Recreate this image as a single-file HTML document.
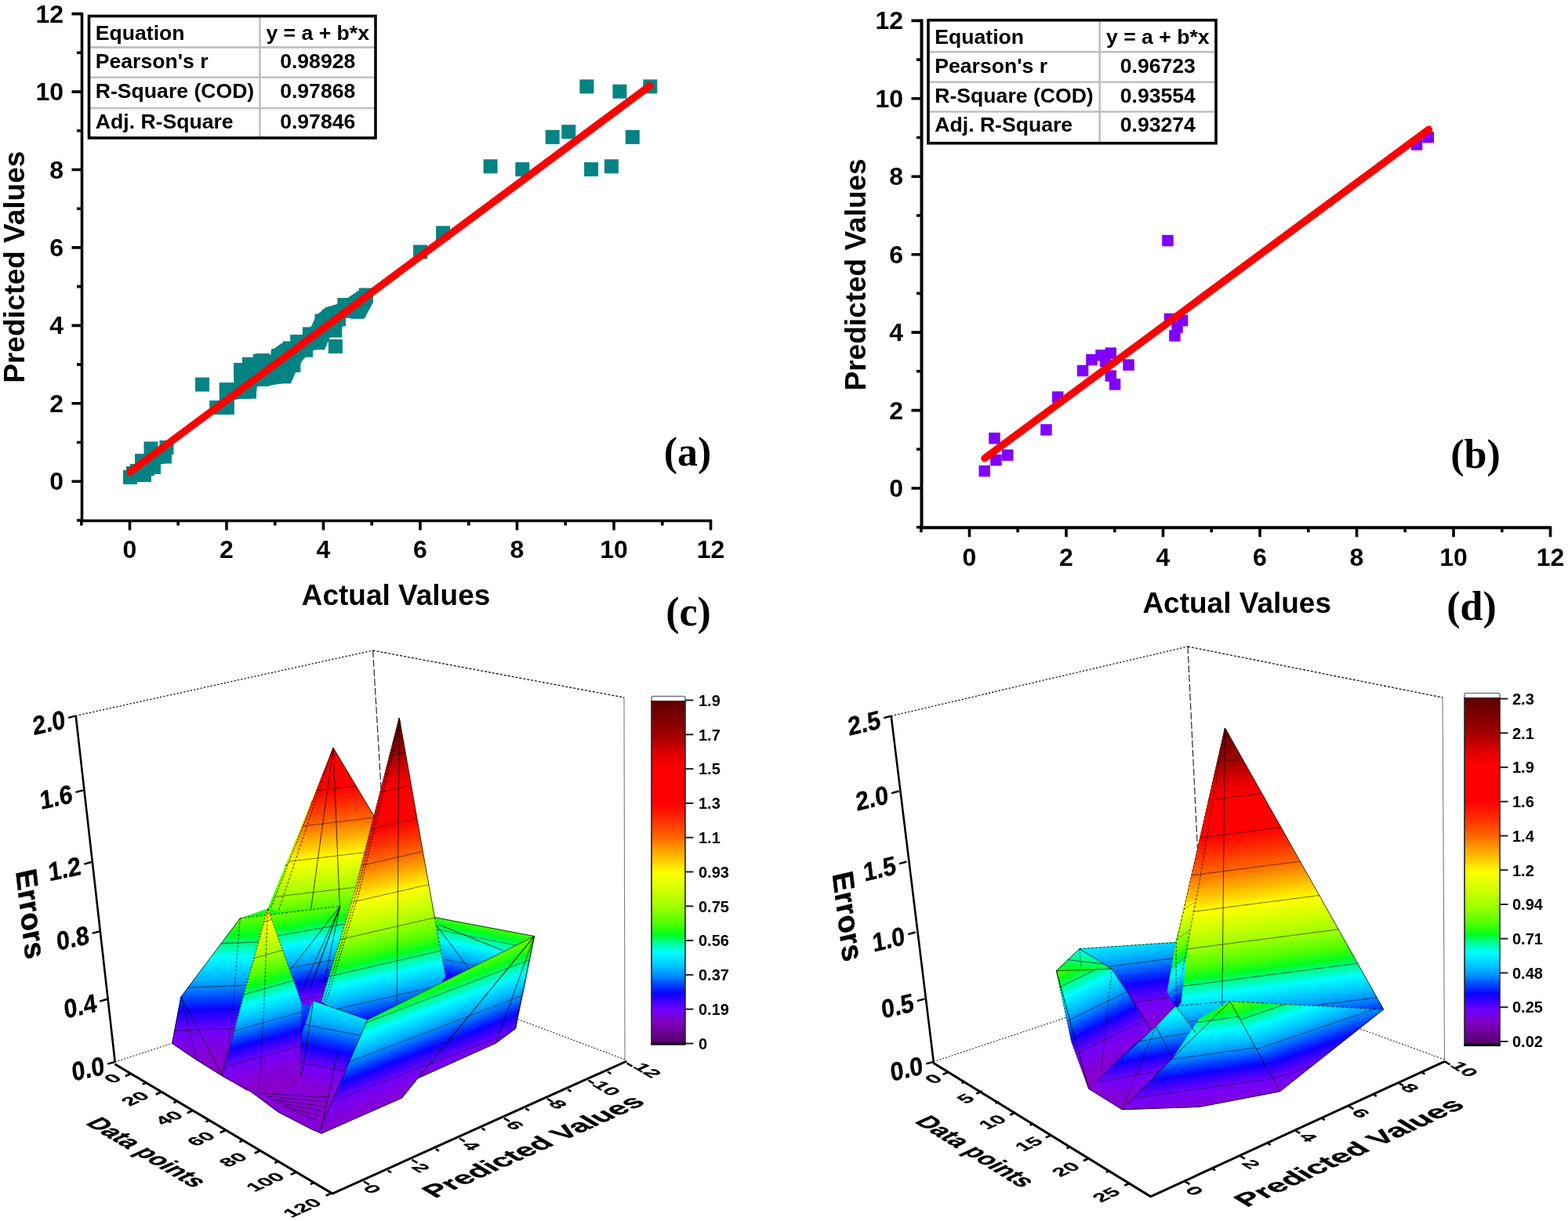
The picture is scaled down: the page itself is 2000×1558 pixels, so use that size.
<!DOCTYPE html>
<html><head><meta charset="utf-8"><title>Figure</title>
<style>
html,body{margin:0;padding:0;background:#fff;}
body{width:2000px;height:1558px;overflow:hidden;}
svg{display:block;}
.tl{font-family:'Liberation Sans', Arial, sans-serif;font-weight:bold;font-size:32px;fill:#000;}
.at{font-family:'Liberation Sans', Arial, sans-serif;font-weight:bold;font-size:37px;fill:#000;}
.tt{font-family:'Liberation Sans', Arial, sans-serif;font-weight:bold;font-size:26.6px;fill:#000;}
.pl{font-family:'Liberation Serif', 'Times New Roman', serif;font-weight:bold;font-size:52px;fill:#000;}
.zl{font-family:'Liberation Sans', Arial, sans-serif;font-weight:bold;font-size:33px;fill:#000;stroke:#000;stroke-width:0.4px;}
.cl{font-family:'Liberation Sans', Arial, sans-serif;font-weight:bold;font-size:20px;fill:#000;}
.t3{font-family:'Liberation Sans', Arial, sans-serif;font-weight:bold;font-size:37px;fill:#000;stroke:#000;stroke-width:0.5px;}
.e3{font-family:'Liberation Sans', Arial, sans-serif;font-weight:bold;font-size:38px;fill:#000;stroke:#000;stroke-width:0.5px;}
.k3{font-family:'Liberation Sans', Arial, sans-serif;font-weight:bold;font-size:26.5px;fill:#000;stroke:#000;stroke-width:0.3px;}
</style></head>
<body>
<svg width="2000" height="1558" viewBox="0 0 2000 1558">
<defs><linearGradient id="cm" gradientUnits="userSpaceOnUse" x1="0" y1="0" x2="1" y2="0"><stop offset="0.0000" stop-color="#8a00c8"/><stop offset="0.0500" stop-color="#8300dc"/><stop offset="0.0978" stop-color="#7100fd"/><stop offset="0.1000" stop-color="#320073"/><stop offset="0.1022" stop-color="#6b00ff"/><stop offset="0.1460" stop-color="#1000ff"/><stop offset="0.1710" stop-color="#0040ff"/><stop offset="0.1978" stop-color="#008aff"/><stop offset="0.2000" stop-color="#004173"/><stop offset="0.2022" stop-color="#0094ff"/><stop offset="0.2250" stop-color="#00c0ff"/><stop offset="0.2670" stop-color="#00ffff"/><stop offset="0.2978" stop-color="#00ff88"/><stop offset="0.3000" stop-color="#00733a"/><stop offset="0.3022" stop-color="#00ff74"/><stop offset="0.3170" stop-color="#00ff20"/><stop offset="0.3500" stop-color="#50ff00"/><stop offset="0.3978" stop-color="#9cff00"/><stop offset="0.4000" stop-color="#487300"/><stop offset="0.4022" stop-color="#a2ff00"/><stop offset="0.4400" stop-color="#c8ff00"/><stop offset="0.4978" stop-color="#ffff00"/><stop offset="0.5000" stop-color="#737100"/><stop offset="0.5022" stop-color="#fff900"/><stop offset="0.5300" stop-color="#ffd000"/><stop offset="0.5750" stop-color="#ff9000"/><stop offset="0.5978" stop-color="#ff6c00"/><stop offset="0.6000" stop-color="#732f00"/><stop offset="0.6022" stop-color="#ff6600"/><stop offset="0.6500" stop-color="#ff3000"/><stop offset="0.6978" stop-color="#ff0200"/><stop offset="0.7000" stop-color="#730000"/><stop offset="0.7022" stop-color="#ff0000"/><stop offset="0.7978" stop-color="#ff0000"/><stop offset="0.8000" stop-color="#730000"/><stop offset="0.8022" stop-color="#fd0000"/><stop offset="0.8450" stop-color="#e00000"/><stop offset="0.8978" stop-color="#a30000"/><stop offset="0.9000" stop-color="#480000"/><stop offset="0.9022" stop-color="#9e0000"/><stop offset="1.0000" stop-color="#5a0000"/></linearGradient><linearGradient id="cb" x1="0" y1="1" x2="0" y2="0"><stop offset="0.0000" stop-color="#5a0070"/><stop offset="0.0200" stop-color="#600080"/><stop offset="0.0640" stop-color="#8000c0"/><stop offset="0.1000" stop-color="#7000ff"/><stop offset="0.1460" stop-color="#1000ff"/><stop offset="0.1710" stop-color="#0040ff"/><stop offset="0.2000" stop-color="#0090ff"/><stop offset="0.2250" stop-color="#00c0ff"/><stop offset="0.2670" stop-color="#00ffff"/><stop offset="0.3000" stop-color="#00ff80"/><stop offset="0.3170" stop-color="#00ff20"/><stop offset="0.3500" stop-color="#50ff00"/><stop offset="0.4000" stop-color="#a0ff00"/><stop offset="0.4400" stop-color="#c8ff00"/><stop offset="0.4980" stop-color="#ffff00"/><stop offset="0.5300" stop-color="#ffd000"/><stop offset="0.5750" stop-color="#ff9000"/><stop offset="0.6000" stop-color="#ff6800"/><stop offset="0.6500" stop-color="#ff3000"/><stop offset="0.7000" stop-color="#ff0000"/><stop offset="0.8000" stop-color="#ff0000"/><stop offset="0.8450" stop-color="#e00000"/><stop offset="0.9000" stop-color="#a00000"/><stop offset="1.0000" stop-color="#5a0000"/></linearGradient></defs>
<rect width="2000" height="1558" fill="#fff"/>
<path d="M104.5 15.9V664.5H908.2" fill="none" stroke="#000" stroke-width="3.6"/>
<path d="M104.5 664H98M104.5 614.2H91.5M104.5 564.5H98M104.5 514.8H91.5M104.5 465.1H98M104.5 415.4H91.5M104.5 365.6H98M104.5 315.9H91.5M104.5 266.2H98M104.5 216.5H91.5M104.5 166.8H98M104.5 117.1H91.5M104.5 67.3H98M104.5 17.6H91.5M103.8 664.5V670.5M165.5 664.5V676.5M227.2 664.5V670.5M289 664.5V676.5M350.8 664.5V670.5M412.5 664.5V676.5M474.2 664.5V670.5M536 664.5V676.5M597.8 664.5V670.5M659.5 664.5V676.5M721.2 664.5V670.5M783 664.5V676.5M844.8 664.5V670.5M906.5 664.5V676.5" fill="none" stroke="#000" stroke-width="3.6"/>
<text x="81" y="625.2" text-anchor="end" class="tl">0</text>
<text x="165.5" y="711.5" text-anchor="middle" class="tl">0</text>
<text x="81" y="525.8" text-anchor="end" class="tl">2</text>
<text x="289" y="711.5" text-anchor="middle" class="tl">2</text>
<text x="81" y="426.4" text-anchor="end" class="tl">4</text>
<text x="412.5" y="711.5" text-anchor="middle" class="tl">4</text>
<text x="81" y="326.9" text-anchor="end" class="tl">6</text>
<text x="536" y="711.5" text-anchor="middle" class="tl">6</text>
<text x="81" y="227.5" text-anchor="end" class="tl">8</text>
<text x="659.5" y="711.5" text-anchor="middle" class="tl">8</text>
<text x="81" y="128.1" text-anchor="end" class="tl">10</text>
<text x="783" y="711.5" text-anchor="middle" class="tl">10</text>
<text x="81" y="28.6" text-anchor="end" class="tl">12</text>
<text x="906.5" y="711.5" text-anchor="middle" class="tl">12</text>
<text x="505" y="772.3" text-anchor="middle" class="at">Actual Values</text>
<text transform="translate(31 340.7) rotate(-90)" text-anchor="middle" class="at">Predicted Values</text>
<rect x="739.4" y="101.4" width="18" height="18" fill="#038383"/>
<rect x="781.4" y="107.7" width="18" height="18" fill="#038383"/>
<rect x="820.3" y="101.4" width="18" height="18" fill="#038383"/>
<rect x="695.7" y="165.9" width="18" height="18" fill="#038383"/>
<rect x="716.3" y="159.2" width="18" height="18" fill="#038383"/>
<rect x="797.8" y="165.9" width="18" height="18" fill="#038383"/>
<rect x="616.6" y="203.3" width="18" height="18" fill="#038383"/>
<rect x="657.3" y="207.1" width="18" height="18" fill="#038383"/>
<rect x="745.1" y="207.1" width="18" height="18" fill="#038383"/>
<rect x="770.9" y="203.3" width="18" height="18" fill="#038383"/>
<rect x="556.1" y="288.3" width="18" height="18" fill="#038383"/>
<rect x="527.1" y="312.5" width="18" height="18" fill="#038383"/>
<rect x="458" y="367.5" width="18" height="18" fill="#038383"/>
<rect x="446.5" y="388.8" width="18" height="18" fill="#038383"/>
<rect x="435.9" y="380.7" width="18" height="18" fill="#038383"/>
<rect x="249" y="481.6" width="18" height="18" fill="#038383"/>
<rect x="418.9" y="433" width="18" height="18" fill="#038383"/>
<rect x="280.2" y="488.2" width="18" height="18" fill="#038383"/>
<rect x="267.2" y="511" width="18" height="18" fill="#038383"/>
<rect x="280.2" y="511" width="18" height="18" fill="#038383"/>
<rect x="298.2" y="463" width="18" height="18" fill="#038383"/>
<rect x="309" y="490.6" width="18" height="18" fill="#038383"/>
<rect x="309" y="455.8" width="18" height="18" fill="#038383"/>
<rect x="325.8" y="451" width="18" height="18" fill="#038383"/>
<rect x="325.8" y="475" width="18" height="18" fill="#038383"/>
<rect x="346.2" y="445" width="18" height="18" fill="#038383"/>
<rect x="353.4" y="471.4" width="18" height="18" fill="#038383"/>
<rect x="360.6" y="435.4" width="18" height="18" fill="#038383"/>
<rect x="370.2" y="427" width="18" height="18" fill="#038383"/>
<rect x="365.4" y="457" width="18" height="18" fill="#038383"/>
<rect x="381" y="437.8" width="18" height="18" fill="#038383"/>
<rect x="396.7" y="428.2" width="18" height="18" fill="#038383"/>
<rect x="385.9" y="417.4" width="18" height="18" fill="#038383"/>
<rect x="401.5" y="400.6" width="18" height="18" fill="#038383"/>
<rect x="411" y="394.6" width="18" height="18" fill="#038383"/>
<rect x="423" y="398.2" width="18" height="18" fill="#038383"/>
<rect x="418.3" y="412.6" width="18" height="18" fill="#038383"/>
<rect x="437.5" y="381.4" width="18" height="18" fill="#038383"/>
<rect x="448.3" y="387.4" width="18" height="18" fill="#038383"/>
<rect x="457.9" y="368.2" width="18" height="18" fill="#038383"/>
<rect x="430.3" y="380.2" width="18" height="18" fill="#038383"/>
<rect x="399" y="413.8" width="18" height="18" fill="#038383"/>
<rect x="302.7" y="491" width="18" height="18" fill="#038383"/>
<rect x="322.7" y="451.8" width="18" height="18" fill="#038383"/>
<rect x="336" y="461" width="18" height="18" fill="#038383"/>
<rect x="341" y="469" width="18" height="18" fill="#038383"/>
<rect x="157" y="600" width="18" height="18" fill="#038383"/>
<rect x="166" y="592" width="18" height="18" fill="#038383"/>
<rect x="173" y="584" width="18" height="18" fill="#038383"/>
<rect x="183.5" y="563.5" width="18" height="18" fill="#038383"/>
<rect x="203.5" y="562" width="18" height="18" fill="#038383"/>
<rect x="187" y="587" width="18" height="18" fill="#038383"/>
<rect x="201" y="573.5" width="18" height="18" fill="#038383"/>
<rect x="175" y="597" width="18" height="18" fill="#038383"/>
<rect x="192" y="574" width="18" height="18" fill="#038383"/>
<rect x="172" y="579" width="18" height="18" fill="#038383"/>
<rect x="161" y="595" width="18" height="18" fill="#038383"/>
<rect x="179" y="589" width="18" height="18" fill="#038383"/>
<path d="M279.6 488.8L298.2 488.6L298.2 462.9L311.0 462.9L311.0 456.5L323.7 456.5L323.7 452.3L345.6 452.3L345.6 448.0L351.2 443.8L359.0 438.1L371.7 438.1L371.7 427.9L388.6 427.9L388.6 423.3L397.1 416.2L403.3 402.4L409.3 397.6L415.3 392.2L434.5 386.8L440.5 382.0L458.5 370.0L466.0 368.0L476.0 386.0L465.7 404.8L439.3 406.0L439.3 415.0L427.3 425.2L421.3 429.4L415.3 443.2L397.1 448.0L385.8 460.0L378.8 471.3L371.7 487.6L344.9 491.8L327.9 493.2L326.5 506.6L310.3 508.0L298.8 510.5L298.8 529.0L280.0 529.0Z" fill="#038383"/>
<path d="M166 602L829 109.5" stroke="#ff0000" stroke-width="9.5" stroke-linecap="round"/>
<path d="M113.5 60.4H479M113.5 98.8H479M113.5 138H479M331.5 20.5V176" stroke="#c0c0c0" stroke-width="2.6" fill="none"/>
<rect x="113.5" y="20.5" width="365.5" height="155.5" fill="none" stroke="#000" stroke-width="3.6"/>
<text x="121.8" y="50.8" class="tt">Equation</text>
<text x="405.2" y="50.8" text-anchor="middle" class="tt">y = a + b*x</text>
<text x="121.8" y="87.3" class="tt">Pearson's r</text>
<text x="405.2" y="87.3" text-anchor="middle" class="tt">0.98928</text>
<text x="121.8" y="125.2" class="tt">R-Square (COD)</text>
<text x="405.2" y="125.2" text-anchor="middle" class="tt">0.97868</text>
<text x="121.8" y="163.7" class="tt">Adj. R-Square</text>
<text x="405.2" y="163.7" text-anchor="middle" class="tt">0.97846</text>
<path d="M1175.5 24.6V673.2H1979.2" fill="none" stroke="#000" stroke-width="4"/>
<path d="M1175.5 672.7H1169M1175.5 623H1162.5M1175.5 573.3H1169M1175.5 523.6H1162.5M1175.5 473.8H1169M1175.5 424.1H1162.5M1175.5 374.4H1169M1175.5 324.7H1162.5M1175.5 275H1169M1175.5 225.2H1162.5M1175.5 175.5H1169M1175.5 125.8H1162.5M1175.5 76.1H1169M1175.5 26.4H1162.5M1174.8 673.2V679.2M1236.5 673.2V685.2M1298.2 673.2V679.2M1360 673.2V685.2M1421.8 673.2V679.2M1483.5 673.2V685.2M1545.2 673.2V679.2M1607 673.2V685.2M1668.8 673.2V679.2M1730.5 673.2V685.2M1792.2 673.2V679.2M1854 673.2V685.2M1915.8 673.2V679.2M1977.5 673.2V685.2" fill="none" stroke="#000" stroke-width="3.6"/>
<text x="1152" y="634" text-anchor="end" class="tl">0</text>
<text x="1236.5" y="722.2" text-anchor="middle" class="tl">0</text>
<text x="1152" y="534.6" text-anchor="end" class="tl">2</text>
<text x="1360" y="722.2" text-anchor="middle" class="tl">2</text>
<text x="1152" y="435.1" text-anchor="end" class="tl">4</text>
<text x="1483.5" y="722.2" text-anchor="middle" class="tl">4</text>
<text x="1152" y="335.7" text-anchor="end" class="tl">6</text>
<text x="1607" y="722.2" text-anchor="middle" class="tl">6</text>
<text x="1152" y="236.2" text-anchor="end" class="tl">8</text>
<text x="1730.5" y="722.2" text-anchor="middle" class="tl">8</text>
<text x="1152" y="136.8" text-anchor="end" class="tl">10</text>
<text x="1854" y="722.2" text-anchor="middle" class="tl">10</text>
<text x="1152" y="37.4" text-anchor="end" class="tl">12</text>
<text x="1977.5" y="722.2" text-anchor="middle" class="tl">12</text>
<text x="1577.7" y="782" text-anchor="middle" class="at">Actual Values</text>
<text transform="translate(1103.7 350.4) rotate(-90)" text-anchor="middle" class="at">Predicted Values</text>
<rect x="1482.2" y="299.8" width="14.5" height="14.5" fill="#7f00ff"/>
<rect x="1248.5" y="593.8" width="14.5" height="14.5" fill="#7f00ff"/>
<rect x="1261.2" y="552" width="14.5" height="14.5" fill="#7f00ff"/>
<rect x="1263.2" y="579.8" width="14.5" height="14.5" fill="#7f00ff"/>
<rect x="1278" y="573.5" width="14.5" height="14.5" fill="#7f00ff"/>
<rect x="1327.2" y="541.2" width="14.5" height="14.5" fill="#7f00ff"/>
<rect x="1342" y="499.4" width="14.5" height="14.5" fill="#7f00ff"/>
<rect x="1373.8" y="465.8" width="14.5" height="14.5" fill="#7f00ff"/>
<rect x="1385.2" y="451.8" width="14.5" height="14.5" fill="#7f00ff"/>
<rect x="1397.3" y="446.1" width="14.5" height="14.5" fill="#7f00ff"/>
<rect x="1409.5" y="443.4" width="14.5" height="14.5" fill="#7f00ff"/>
<rect x="1409.5" y="472.4" width="14.5" height="14.5" fill="#7f00ff"/>
<rect x="1414.8" y="483.2" width="14.5" height="14.5" fill="#7f00ff"/>
<rect x="1432.3" y="458.4" width="14.5" height="14.5" fill="#7f00ff"/>
<rect x="1402.8" y="453.8" width="14.5" height="14.5" fill="#7f00ff"/>
<rect x="1484.8" y="399.8" width="14.5" height="14.5" fill="#7f00ff"/>
<rect x="1500.8" y="401.8" width="14.5" height="14.5" fill="#7f00ff"/>
<rect x="1494.3" y="410.4" width="14.5" height="14.5" fill="#7f00ff"/>
<rect x="1491.2" y="421.2" width="14.5" height="14.5" fill="#7f00ff"/>
<rect x="1814.5" y="167.8" width="14.5" height="14.5" fill="#7f00ff"/>
<rect x="1799.8" y="177.2" width="14.5" height="14.5" fill="#7f00ff"/>
<path d="M1256 584.8L1822.3 165.3" stroke="#ff0000" stroke-width="9.5" stroke-linecap="round"/>
<path d="M1184 66.2H1551M1184 104.7H1551M1184 142.5H1551M1402.7 25.7V182.7" stroke="#c0c0c0" stroke-width="2.6" fill="none"/>
<rect x="1184" y="25.7" width="367" height="157" fill="none" stroke="#000" stroke-width="3.6"/>
<text x="1192.3" y="56" class="tt">Equation</text>
<text x="1476.8" y="56" text-anchor="middle" class="tt">y = a + b*x</text>
<text x="1192.3" y="93.1" class="tt">Pearson's r</text>
<text x="1476.8" y="93.1" text-anchor="middle" class="tt">0.96723</text>
<text x="1192.3" y="131.1" class="tt">R-Square (COD)</text>
<text x="1476.8" y="131.1" text-anchor="middle" class="tt">0.93554</text>
<text x="1192.3" y="168.2" class="tt">Adj. R-Square</text>
<text x="1476.8" y="168.2" text-anchor="middle" class="tt">0.93274</text>

<text x="877" y="594" text-anchor="middle" class="pl">(a)</text>
<text x="1882" y="596.6" text-anchor="middle" class="pl">(b)</text>
<text x="878" y="798" text-anchor="middle" class="pl">(c)</text>
<text x="1877" y="791" text-anchor="middle" class="pl">(d)</text>

<path d="M96.7 913.3L475.6 830.0" fill="none" stroke="#111" stroke-width="1.30" stroke-opacity="1.00" stroke-dasharray="2.2 2.2"/>
<path d="M475.6 830.0L796.0 890.0" fill="none" stroke="#111" stroke-width="1.30" stroke-opacity="1.00" stroke-dasharray="3 2"/>
<path d="M475.6 830.0L500.0 1240.0" fill="none" stroke="#111" stroke-width="1.20" stroke-opacity="0.90" stroke-dasharray="9 3"/>
<path d="M796.0 890.0L797.0 1352.0" fill="none" stroke="#444" stroke-width="1.10" stroke-opacity="0.70"/>
<path d="M146.7 1355.0L500.0 1240.0" fill="none" stroke="#111" stroke-width="1.10" stroke-opacity="0.90" stroke-dasharray="2 2"/>
<path d="M797.0 1352.0L500.0 1240.0" fill="none" stroke="#111" stroke-width="1.10" stroke-opacity="0.90" stroke-dasharray="2 2"/>
<linearGradient id="g101" href="#cm" gradientUnits="userSpaceOnUse" x1="433.89" y1="1426.56" x2="444.11" y2="622.00"/><path d="M219.6 1331.4L230.9 1272.0L306.3 1171.7L341.6 1159.6L425.0 954.2L478.3 1043.3L509.2 916.0L554.4 1170.6L681.5 1194.6L657.5 1312.5L632.5 1331.0L532.5 1376.0L512.5 1401.0L410.0 1446.2L355.0 1419.0L317.5 1391.0L250.1 1352.0Z" fill="url(#g101)" stroke="url(#g101)" stroke-width="0.6"/>
<linearGradient id="g102" href="#cm" gradientUnits="userSpaceOnUse" x1="595.22" y1="1302.22" x2="665.29" y2="953.79"/><path d="M554.4 1170.6L681.5 1194.6L650.0 1245.0L600.0 1262.0L566.0 1262.0Z" fill="url(#g102)" stroke="url(#g102)" stroke-width="0.6"/>
<linearGradient id="g103" href="#cm" gradientUnits="userSpaceOnUse" x1="449.10" y1="1304.61" x2="398.23" y2="880.71"/><path d="M425.0 954.2L478.3 1043.3L495.0 1075.0L475.0 1150.0L433.8 1156.2L396.7 1160.0L355.0 1163.0L345.0 1160.0Z" fill="url(#g103)" stroke="url(#g103)" stroke-width="0.6"/>
<linearGradient id="g104" href="#cm" gradientUnits="userSpaceOnUse" x1="420.23" y1="1313.24" x2="345.14" y2="890.35"/><path d="M338.4 1167.7L344.3 1167.1L433.8 1156.2L451.7 1140.0L460.0 1200.0L440.0 1290.0L400.0 1285.0L384.7 1279.8L370.5 1240.0Z" fill="url(#g104)" stroke="url(#g104)" stroke-width="0.6"/>
<linearGradient id="g105" href="#cm" gradientUnits="userSpaceOnUse" x1="290.85" y1="1367.41" x2="270.15" y2="821.61"/><path d="M219.6 1331.4L230.9 1272.0L306.3 1171.7L338.4 1167.7L341.6 1160.0L312.7 1262.4L299.9 1310.5L283.8 1373.0L250.1 1352.0Z" fill="url(#g105)" stroke="url(#g105)" stroke-width="0.6"/>
<linearGradient id="g106" href="#cm" gradientUnits="userSpaceOnUse" x1="532.04" y1="1352.10" x2="435.93" y2="934.21"/><path d="M509.2 916.0L541.7 1100.0L554.4 1170.6L568.5 1247.0L520.0 1280.0L468.8 1301.2L432.0 1292.5L410.0 1277.5L451.7 1140.0Z" fill="url(#g106)" stroke="url(#g106)" stroke-width="0.6"/>
<path d="M283.8 1373L314.3 1390.8L350 1400L382 1375L395 1400L420 1400L410 1446.25L397.5 1441L355 1419L317.5 1391L250.1 1352Z" fill="#8500d6" stroke="#8500d6" stroke-width="0.6"/>
<linearGradient id="g107" href="#cm" gradientUnits="userSpaceOnUse" x1="358.26" y1="1384.19" x2="247.13" y2="987.31"/><path d="M341.6 1159.6L312.7 1262.4L299.9 1310.5L283.8 1373.0L314.3 1390.8L350.0 1400.0L382.5 1375.0L385.0 1300.0L384.7 1279.8Z" fill="url(#g107)" stroke="url(#g107)" stroke-width="0.6"/>
<linearGradient id="g108" href="#cm" gradientUnits="userSpaceOnUse" x1="401.57" y1="1409.16" x2="494.44" y2="930.83"/><path d="M399.7 1276.9L468.8 1301.2L445.0 1356.0L420.0 1400.0L395.0 1400.0L382.0 1375.0L385.0 1320.0Z" fill="url(#g108)" stroke="url(#g108)" stroke-width="0.6"/>
<linearGradient id="g109" href="#cm" gradientUnits="userSpaceOnUse" x1="582.51" y1="1386.47" x2="441.68" y2="1020.69"/><path d="M468.8 1301.2L681.5 1194.6L669.0 1260.0L660.0 1297.5L657.5 1312.5L632.5 1331.0L532.5 1376.0L512.5 1401.0L410.0 1446.2L407.5 1442.5Z" fill="url(#g109)" stroke="url(#g109)" stroke-width="0.6"/>
<path d="M509.2 916.0L506.4 1279.0" fill="none" stroke="#000" stroke-width="0.90" stroke-opacity="0.80"/>
<path d="M509.2 916.0L451.7 1140.0L410.0 1277.5" fill="none" stroke="#000" stroke-width="0.90" stroke-opacity="0.85" stroke-dasharray="2.5 1.5"/>
<path d="M510.1 919.0L454.7 1140.0L413.0 1278.4" fill="none" stroke="#000" stroke-width="0.90" stroke-opacity="0.85" stroke-dasharray="2.5 1.5"/>
<path d="M511.0 922.0L457.7 1140.0L416.0 1279.3" fill="none" stroke="#000" stroke-width="0.90" stroke-opacity="0.85" stroke-dasharray="2.5 1.5"/>
<path d="M509.2 916.0L541.7 1100.0L554.4 1170.6" fill="none" stroke="#000" stroke-width="0.90" stroke-opacity="0.80"/>
<path d="M554.4 1170.6L568.5 1247.0" fill="none" stroke="#000" stroke-width="0.90" stroke-opacity="0.80" stroke-dasharray="3 2"/>
<path d="M425.0 954.2L478.3 1043.3" fill="none" stroke="#000" stroke-width="0.90" stroke-opacity="0.80"/>
<path d="M425.0 954.2L345.0 1160.0" fill="none" stroke="#000" stroke-width="0.90" stroke-opacity="0.80" stroke-dasharray="2.5 1.5"/>
<path d="M425.0 954.2L355.0 1163.0" fill="none" stroke="#000" stroke-width="0.90" stroke-opacity="0.80" stroke-dasharray="3 2"/>
<path d="M425.0 954.2L396.7 1160.0" fill="none" stroke="#000" stroke-width="0.90" stroke-opacity="0.80"/>
<path d="M425.0 954.2L433.3 1156.7" fill="none" stroke="#000" stroke-width="0.90" stroke-opacity="0.80"/>
<path d="M554.4 1170.6L681.5 1194.6" fill="none" stroke="#000" stroke-width="0.90" stroke-opacity="0.80"/>
<path d="M556.0 1180.0L598.0 1235.6" fill="none" stroke="#000" stroke-width="0.90" stroke-opacity="0.80"/>
<path d="M560.0 1180.0L642.0 1213.0" fill="none" stroke="#000" stroke-width="0.90" stroke-opacity="0.80"/>
<path d="M306.3 1171.7L338.4 1167.7" fill="none" stroke="#000" stroke-width="0.90" stroke-opacity="0.80" stroke-dasharray="3 2"/>
<path d="M344.3 1167.1L433.8 1156.2" fill="none" stroke="#000" stroke-width="0.90" stroke-opacity="0.80" stroke-dasharray="3 2"/>
<path d="M433.8 1156.2L370.9 1237.0" fill="none" stroke="#000" stroke-width="0.90" stroke-opacity="0.80"/>
<path d="M433.8 1156.2L384.7 1264.8" fill="none" stroke="#000" stroke-width="0.90" stroke-opacity="0.80"/>
<path d="M433.8 1156.2L395.0 1262.0" fill="none" stroke="#000" stroke-width="0.90" stroke-opacity="0.80"/>
<path d="M433.8 1156.2L411.3 1263.6" fill="none" stroke="#000" stroke-width="0.90" stroke-opacity="0.80"/>
<path d="M433.8 1156.2L400.0 1250.0" fill="none" stroke="#000" stroke-width="0.90" stroke-opacity="0.80"/>
<path d="M341.6 1159.6L312.7 1262.4L283.8 1373.0" fill="none" stroke="#000" stroke-width="0.90" stroke-opacity="0.80" stroke-dasharray="2.5 1.5"/>
<path d="M341.6 1159.6L384.7 1279.8L382.5 1375.0" fill="none" stroke="#000" stroke-width="0.90" stroke-opacity="0.80" stroke-dasharray="2.5 1.5"/>
<path d="M341.6 1159.6L336.0 1300.0L330.0 1395.0" fill="none" stroke="#000" stroke-width="0.90" stroke-opacity="0.80" stroke-dasharray="3 2"/>
<path d="M219.6 1331.4L230.9 1272.0L306.3 1171.7" fill="none" stroke="#000" stroke-width="0.90" stroke-opacity="0.80"/>
<path d="M306.3 1171.7L295.0 1310.0L282.5 1375.0" fill="none" stroke="#000" stroke-width="0.90" stroke-opacity="0.80" stroke-dasharray="3 2"/>
<path d="M230.9 1272.0L250.1 1352.0" fill="none" stroke="#000" stroke-width="0.90" stroke-opacity="0.80" stroke-dasharray="2.5 1.5"/>
<path d="M230.9 1272.0L283.8 1373.0" fill="none" stroke="#000" stroke-width="0.90" stroke-opacity="0.80"/>
<path d="M468.8 1301.2L681.5 1194.6" fill="none" stroke="#000" stroke-width="0.90" stroke-opacity="0.80"/>
<path d="M681.5 1194.6L512.5 1401.0" fill="none" stroke="#000" stroke-width="0.90" stroke-opacity="0.80"/>
<path d="M681.5 1194.6L532.5 1376.0" fill="none" stroke="#000" stroke-width="0.90" stroke-opacity="0.80"/>
<path d="M681.5 1194.6L632.5 1331.0" fill="none" stroke="#000" stroke-width="0.90" stroke-opacity="0.80"/>
<path d="M681.5 1194.6L657.5 1312.5" fill="none" stroke="#000" stroke-width="0.90" stroke-opacity="0.80" stroke-dasharray="2.5 1.5"/>
<path d="M468.8 1301.2L407.5 1442.5" fill="none" stroke="#000" stroke-width="0.90" stroke-opacity="0.80"/>
<path d="M399.7 1276.9L468.8 1301.2" fill="none" stroke="#000" stroke-width="0.90" stroke-opacity="0.80"/>
<path d="M399.7 1276.9L385.0 1372.0" fill="none" stroke="#000" stroke-width="0.90" stroke-opacity="0.80"/>
<path d="M430.0 1345.0L410.0 1440.0" fill="none" stroke="#000" stroke-width="0.90" stroke-opacity="0.80"/>
<path d="M330.0 1395.0L420.0 1400.0" fill="none" stroke="#000" stroke-width="0.80" stroke-opacity="0.70"/>
<path d="M338.0 1399.0L417.0 1406.0" fill="none" stroke="#000" stroke-width="0.80" stroke-opacity="0.70"/>
<path d="M346.0 1403.0L414.0 1412.0" fill="none" stroke="#000" stroke-width="0.80" stroke-opacity="0.70"/>
<path d="M354.0 1407.0L411.0 1418.0" fill="none" stroke="#000" stroke-width="0.80" stroke-opacity="0.70"/>
<path d="M362.0 1411.0L408.0 1424.0" fill="none" stroke="#000" stroke-width="0.80" stroke-opacity="0.70"/>
<path d="M370.0 1415.0L405.0 1430.0" fill="none" stroke="#000" stroke-width="0.80" stroke-opacity="0.70"/>
<path d="M219.6 1331.4L250.1 1352.0L283.8 1373.0L317.5 1391.0L355.0 1419.0L397.5 1441.0L410.0 1446.2L512.5 1401.0L532.5 1376.0L632.5 1331.0L657.5 1312.5L660.0 1297.5L681.5 1194.6" fill="none" stroke="#000" stroke-width="0.90" stroke-opacity="0.90"/>
<path d="M96.7 913.3L146.7 1355.0" fill="none" stroke="#000" stroke-width="2.60" stroke-opacity="1.00"/>
<path d="M96.7 913.3L87.2 915.9M106.0 1008.3L96.5 1010.9M116.7 1100.0L107.2 1102.6M127.3 1188.3L117.8 1190.9M136.7 1275.0L127.2 1277.6M146.7 1355.0L137.2 1357.6" stroke="#000" stroke-width="2.4" fill="none"/>
<text transform="matrix(0.899 -0.198 0.112 0.994 84.2 928.8)" text-anchor="end" class="zl">2.0</text>
<text transform="matrix(0.899 -0.198 0.112 0.994 93.5 1023.8)" text-anchor="end" class="zl">1.6</text>
<text transform="matrix(0.899 -0.198 0.112 0.994 104.2 1115.5)" text-anchor="end" class="zl">1.2</text>
<text transform="matrix(0.899 -0.198 0.112 0.994 114.8 1203.8)" text-anchor="end" class="zl">0.8</text>
<text transform="matrix(0.899 -0.198 0.112 0.994 124.2 1290.5)" text-anchor="end" class="zl">0.4</text>
<text transform="matrix(0.899 -0.198 0.112 0.994 134.2 1370.5)" text-anchor="end" class="zl">0.0</text>
<path d="M146.4 1357.7L424.0 1523.0L799.5 1354.0" fill="none" stroke="#000" stroke-width="3.00" stroke-opacity="1.00"/>
<path d="M167.0 1370.0L159.7 1373.2M186.5 1381.6L181.9 1383.6M206.0 1393.2L198.7 1396.5M226.0 1405.1L221.4 1407.2M246.0 1417.0L238.7 1420.3M267.0 1429.5L262.4 1431.6M288.0 1442.0L280.7 1445.3M310.0 1455.1L305.4 1457.2M332.0 1468.2L324.7 1471.5M355.0 1481.9L350.4 1484.0M378.0 1495.6L370.7 1498.9M400.5 1509.0L395.9 1511.1M423.0 1522.4L415.7 1525.7M464.0 1507.5L470.9 1511.6M494.8 1493.7L499.0 1496.2M525.5 1479.8L532.4 1483.9M555.8 1466.2L560.0 1468.7M586.0 1452.5L592.9 1456.6M614.5 1439.7L618.8 1442.2M643.0 1426.8L649.9 1430.9M670.5 1414.4L674.8 1417.0M698.0 1402.0L704.9 1406.1M724.2 1390.2L728.5 1392.8M750.5 1378.5L757.4 1382.6M775.0 1367.5L779.3 1370.1M799.5 1356.5L806.4 1360.6" stroke="#000" stroke-width="2.6" fill="none"/>
<text transform="matrix(0.912 -0.410 0.722 0.430 150.2 1380.1)" text-anchor="middle" class="k3">0</text>
<text transform="matrix(0.912 -0.410 0.722 0.430 178.9 1405.8)" text-anchor="middle" class="k3">20</text>
<text transform="matrix(0.912 -0.410 0.722 0.430 221.9 1430.5)" text-anchor="middle" class="k3">40</text>
<text transform="matrix(0.912 -0.410 0.722 0.430 262.9 1457.1)" text-anchor="middle" class="k3">60</text>
<text transform="matrix(0.912 -0.410 0.722 0.430 303.9 1483.8)" text-anchor="middle" class="k3">80</text>
<text transform="matrix(0.912 -0.410 0.722 0.430 344.9 1512.1)" text-anchor="middle" class="k3">100</text>
<text transform="matrix(0.912 -0.410 0.722 0.430 391.9 1545.1)" text-anchor="middle" class="k3">120</text>
<text transform="matrix(0.859 0.512 -0.766 0.345 467.7 1520.3)" text-anchor="middle" class="k3">0</text>
<text transform="matrix(0.859 0.512 -0.766 0.345 529.7 1493.3)" text-anchor="middle" class="k3">2</text>
<text transform="matrix(0.859 0.512 -0.766 0.345 594.4 1465.3)" text-anchor="middle" class="k3">4</text>
<text transform="matrix(0.859 0.512 -0.766 0.345 649.7 1439.0)" text-anchor="middle" class="k3">6</text>
<text transform="matrix(0.859 0.512 -0.766 0.345 704.7 1412.3)" text-anchor="middle" class="k3">8</text>
<text transform="matrix(0.859 0.512 -0.766 0.345 766.7 1391.8)" text-anchor="middle" class="k3">10</text>
<text transform="matrix(0.859 0.512 -0.766 0.345 818.7 1368.8)" text-anchor="middle" class="k3">12</text>
<text transform="matrix(0.687 0.409 -0.821 0.369 177.1 1474.9)" text-anchor="middle" class="t3">Data points</text>
<text transform="matrix(0.912 -0.410 0.773 0.460 689.8 1468.6)" text-anchor="middle" class="t3">Predicted Values</text>
<text transform="matrix(0.112 0.994 -0.977 0.215 26.6 1168.9)" text-anchor="middle" class="e3">Errors</text>
<rect x="831.0" y="888.5" width="43.0" height="7.0" rx="2" fill="#fff" stroke="#777" stroke-width="1.5"/>
<rect x="831.0" y="894.0" width="43.0" height="438.0" fill="url(#cb)"/>
<path d="M831.0 894.0V1332.0M874.0 894.0V1332.0" stroke="#222" stroke-width="1.6"/>
<rect x="830.2" y="1330.4" width="44.6" height="3.2" fill="#000"/>
<path d="M874.0 893.5H884.5" stroke="#222" stroke-width="2"/>
<text x="891.0" y="900.7" class="cl">1.9</text>
<path d="M874.0 937.3H884.5" stroke="#222" stroke-width="2"/>
<text x="891.0" y="944.5" class="cl">1.7</text>
<path d="M874.0 981.1H884.5" stroke="#222" stroke-width="2"/>
<text x="891.0" y="988.3" class="cl">1.5</text>
<path d="M874.0 1024.9H884.5" stroke="#222" stroke-width="2"/>
<text x="891.0" y="1032.1" class="cl">1.3</text>
<path d="M874.0 1068.7H884.5" stroke="#222" stroke-width="2"/>
<text x="891.0" y="1075.9" class="cl">1.1</text>
<path d="M874.0 1112.5H884.5" stroke="#222" stroke-width="2"/>
<text x="891.0" y="1119.7" class="cl">0.93</text>
<path d="M874.0 1156.3H884.5" stroke="#222" stroke-width="2"/>
<text x="891.0" y="1163.5" class="cl">0.75</text>
<path d="M874.0 1200.1H884.5" stroke="#222" stroke-width="2"/>
<text x="891.0" y="1207.3" class="cl">0.56</text>
<path d="M874.0 1243.9H884.5" stroke="#222" stroke-width="2"/>
<text x="891.0" y="1251.1" class="cl">0.37</text>
<path d="M874.0 1287.7H884.5" stroke="#222" stroke-width="2"/>
<text x="891.0" y="1294.9" class="cl">0.19</text>
<path d="M874.0 1331.5H884.5" stroke="#222" stroke-width="2"/>
<text x="891.0" y="1338.7" class="cl">0</text>
<path d="M1136.7 913.6L1515.0 825.0" fill="none" stroke="#111" stroke-width="1.30" stroke-opacity="1.00" stroke-dasharray="2.2 2.2"/>
<path d="M1515.0 825.0L1840.0 890.0" fill="none" stroke="#111" stroke-width="1.30" stroke-opacity="1.00" stroke-dasharray="3 2"/>
<path d="M1515.0 825.0L1535.0 1240.0" fill="none" stroke="#111" stroke-width="1.20" stroke-opacity="0.90" stroke-dasharray="9 3"/>
<path d="M1840.0 890.0L1842.5 1352.0" fill="none" stroke="#444" stroke-width="1.10" stroke-opacity="0.70"/>
<path d="M1190.8 1354.8L1535.0 1240.0" fill="none" stroke="#111" stroke-width="1.10" stroke-opacity="0.90" stroke-dasharray="2 2"/>
<path d="M1842.5 1352.0L1535.0 1240.0" fill="none" stroke="#111" stroke-width="1.10" stroke-opacity="0.90" stroke-dasharray="2 2"/>
<linearGradient id="g501" href="#cm" gradientUnits="userSpaceOnUse" x1="1496.22" y1="1427.11" x2="1528.11" y2="793.87"/><path d="M1347.4 1238.7L1376.9 1210.7L1499.4 1202.5L1502.4 1190.0L1519.0 1120.0L1562.5 929.0L1764.7 1288.0L1632.4 1392.7L1530.0 1412.3L1431.2 1415.7L1388.7 1389.3Z" fill="url(#g501)" stroke="url(#g501)" stroke-width="0.6"/>
<linearGradient id="g502" href="#cm" gradientUnits="userSpaceOnUse" x1="1469.04" y1="1325.71" x2="1404.98" y2="836.80"/><path d="M1376.9 1210.7L1499.4 1202.5L1502.4 1190.0L1499.4 1283.0L1474.3 1309.6L1468.4 1314.0L1440.0 1300.0L1418.2 1236.5Z" fill="url(#g502)" stroke="url(#g502)" stroke-width="0.6"/>
<linearGradient id="g503" href="#cm" gradientUnits="userSpaceOnUse" x1="1584.09" y1="1388.27" x2="1524.52" y2="930.01"/><path d="M1562.5 929.0L1764.7 1288.0L1569.2 1277.7L1525.5 1318.0L1500.2 1283.5L1500.4 1202.0L1512.0 1150.0L1531.4 1067.0Z" fill="url(#g503)" stroke="url(#g503)" stroke-width="0.6"/>
<linearGradient id="g504" href="#cm" gradientUnits="userSpaceOnUse" x1="1551.40" y1="1289.59" x2="1404.00" y2="1076.48"/><path d="M1512.0 1150.0L1522.4 1150.0L1506.0 1279.4L1500.2 1288.0L1488.9 1265.5L1500.4 1202.0Z" fill="url(#g504)" stroke="url(#g504)" stroke-width="0.6"/>
<linearGradient id="g505" href="#cm" gradientUnits="userSpaceOnUse" x1="1399.19" y1="1071.78" x2="1338.68" y2="1588.89"/><path d="M1347.4 1238.7L1376.9 1210.7L1418.2 1236.5Z" fill="url(#g505)" stroke="url(#g505)" stroke-width="0.6"/>
<linearGradient id="g506" href="#cm" gradientUnits="userSpaceOnUse" x1="1430.80" y1="1364.30" x2="1241.69" y2="978.79"/><path d="M1347.4 1238.7L1418.2 1236.5L1440.4 1269.7L1468.4 1314.0L1420.0 1355.0L1399.0 1379.0L1388.7 1389.3L1367.0 1330.0Z" fill="url(#g506)" stroke="url(#g506)" stroke-width="0.6"/>
<linearGradient id="g507" href="#cm" gradientUnits="userSpaceOnUse" x1="1477.58" y1="1409.55" x2="1407.84" y2="996.34"/><path d="M1474.3 1309.6L1500.2 1283.5L1525.5 1318.0L1431.2 1415.7L1399.0 1379.0Z" fill="url(#g507)" stroke="url(#g507)" stroke-width="0.6"/>
<linearGradient id="g508" href="#cm" gradientUnits="userSpaceOnUse" x1="1541.52" y1="1430.37" x2="1483.02" y2="1012.56"/><path d="M1569.2 1277.7L1632.4 1392.7L1530.0 1412.3L1431.2 1415.7L1495.6 1350.2L1530.0 1300.0Z" fill="url(#g508)" stroke="url(#g508)" stroke-width="0.6"/>
<linearGradient id="g509" href="#cm" gradientUnits="userSpaceOnUse" x1="1683.15" y1="1401.13" x2="1546.70" y2="999.12"/><path d="M1569.2 1277.7L1764.7 1288.0L1632.4 1392.7Z" fill="url(#g509)" stroke="url(#g509)" stroke-width="0.6"/>
<path d="M1562.5 929.0L1558.8 1283.5" fill="none" stroke="#000" stroke-width="0.90" stroke-opacity="0.80"/>
<path d="M1562.5 929.0L1519.0 1120.0L1500.2 1205.0L1500.2 1283.5" fill="none" stroke="#000" stroke-width="0.90" stroke-opacity="0.80" stroke-dasharray="3 2"/>
<path d="M1562.5 929.0L1530.0 1125.0L1508.0 1240.0" fill="none" stroke="#000" stroke-width="0.90" stroke-opacity="0.80" stroke-dasharray="3 2"/>
<path d="M1562.5 929.0L1764.7 1288.0" fill="none" stroke="#000" stroke-width="0.90" stroke-opacity="0.80"/>
<path d="M1500.2 1283.5L1569.2 1277.7L1764.7 1288.0" fill="none" stroke="#000" stroke-width="0.90" stroke-opacity="0.80" stroke-dasharray="4 2"/>
<path d="M1569.2 1277.7L1632.4 1392.7" fill="none" stroke="#000" stroke-width="0.90" stroke-opacity="0.80"/>
<path d="M1569.2 1277.7L1495.6 1350.2L1431.2 1415.7" fill="none" stroke="#000" stroke-width="0.90" stroke-opacity="0.80"/>
<path d="M1347.4 1238.7L1376.9 1210.7L1418.2 1236.5L1347.4 1238.7" fill="none" stroke="#000" stroke-width="0.90" stroke-opacity="0.80"/>
<path d="M1376.9 1210.7L1379.0 1235.0" fill="none" stroke="#000" stroke-width="0.90" stroke-opacity="0.80" stroke-dasharray="2.5 1.5"/>
<path d="M1376.9 1210.7L1499.4 1202.5" fill="none" stroke="#000" stroke-width="0.90" stroke-opacity="0.80" stroke-dasharray="3 2"/>
<path d="M1418.2 1236.5L1440.4 1269.7L1468.4 1314.0" fill="none" stroke="#000" stroke-width="0.90" stroke-opacity="0.80"/>
<path d="M1347.4 1238.7L1367.0 1330.0L1388.7 1389.3" fill="none" stroke="#000" stroke-width="0.90" stroke-opacity="0.80" stroke-dasharray="2.5 1.5"/>
<path d="M1418.0 1240.0L1404.0 1370.0" fill="none" stroke="#000" stroke-width="0.90" stroke-opacity="0.80" stroke-dasharray="3 2"/>
<path d="M1474.3 1309.6L1399.0 1379.0" fill="none" stroke="#000" stroke-width="0.90" stroke-opacity="0.80"/>
<path d="M1474.3 1309.6L1431.2 1415.7" fill="none" stroke="#000" stroke-width="0.90" stroke-opacity="0.80" stroke-dasharray="2.5 1.5"/>
<path d="M1474.3 1309.6L1499.4 1283.0" fill="none" stroke="#000" stroke-width="0.90" stroke-opacity="0.80"/>
<path d="M1474.3 1309.6L1495.6 1350.2" fill="none" stroke="#000" stroke-width="0.90" stroke-opacity="0.80"/>
<path d="M1499.4 1283.0L1525.5 1318.0" fill="none" stroke="#000" stroke-width="0.90" stroke-opacity="0.80"/>
<path d="M1347.4 1238.7L1388.7 1389.3L1431.2 1415.7L1530.0 1412.3L1632.4 1392.7L1764.7 1288.0" fill="none" stroke="#000" stroke-width="0.90" stroke-opacity="0.90"/>
<path d="M1136.7 913.6L1190.8 1354.8" fill="none" stroke="#000" stroke-width="2.60" stroke-opacity="1.00"/>
<path d="M1136.7 913.6L1127.2 916.2M1146.6 1009.5L1137.1 1012.1M1156.4 1099.5L1146.9 1102.1M1167.8 1189.5L1158.3 1192.1M1179.3 1274.6L1169.8 1277.2M1190.8 1354.8L1181.3 1357.4" stroke="#000" stroke-width="2.4" fill="none"/>
<text transform="matrix(0.896 -0.210 0.122 0.993 1124.2 929.1)" text-anchor="end" class="zl">2.5</text>
<text transform="matrix(0.896 -0.210 0.122 0.993 1134.1 1025.0)" text-anchor="end" class="zl">2.0</text>
<text transform="matrix(0.896 -0.210 0.122 0.993 1143.9 1115.0)" text-anchor="end" class="zl">1.5</text>
<text transform="matrix(0.896 -0.210 0.122 0.993 1155.3 1205.0)" text-anchor="end" class="zl">1.0</text>
<text transform="matrix(0.896 -0.210 0.122 0.993 1166.8 1290.1)" text-anchor="end" class="zl">0.5</text>
<text transform="matrix(0.896 -0.210 0.122 0.993 1178.3 1370.3)" text-anchor="end" class="zl">0.0</text>
<path d="M1190.3 1356.3L1467.6 1526.9L1842.8 1354.3" fill="none" stroke="#000" stroke-width="3.00" stroke-opacity="1.00"/>
<path d="M1209.8 1367.8L1202.5 1371.1M1231.2 1380.0L1226.6 1382.1M1252.6 1392.3L1245.3 1395.6M1274.0 1405.8L1269.5 1407.9M1295.5 1419.4L1288.2 1422.7M1318.2 1433.8L1313.7 1435.9M1341.0 1448.3L1333.7 1451.6M1365.0 1463.1L1360.5 1465.2M1389.1 1478.0L1381.8 1481.3M1415.3 1493.7L1410.8 1495.8M1441.6 1509.5L1434.3 1512.8M1510.6 1507.0L1517.4 1511.2M1545.8 1490.8L1550.1 1493.4M1581.0 1474.5L1587.8 1478.7M1616.2 1458.2L1620.5 1460.9M1651.4 1442.0L1658.2 1446.2M1685.5 1426.5L1689.8 1429.1M1719.6 1411.0L1726.4 1415.2M1751.5 1396.2L1755.8 1398.9M1783.4 1381.5L1790.2 1385.7M1813.1 1367.9L1817.4 1370.5M1842.8 1354.3L1849.6 1358.5" stroke="#000" stroke-width="2.6" fill="none"/>
<text transform="matrix(0.908 -0.418 0.715 0.440 1197.1 1380.6)" text-anchor="middle" class="k3">0</text>
<text transform="matrix(0.908 -0.418 0.715 0.440 1238.2 1406.0)" text-anchor="middle" class="k3">5</text>
<text transform="matrix(0.908 -0.418 0.715 0.440 1272.3 1435.7)" text-anchor="middle" class="k3">10</text>
<text transform="matrix(0.908 -0.418 0.715 0.440 1318.7 1463.7)" text-anchor="middle" class="k3">15</text>
<text transform="matrix(0.908 -0.418 0.715 0.440 1365.9 1496.1)" text-anchor="middle" class="k3">20</text>
<text transform="matrix(0.908 -0.418 0.715 0.440 1417.6 1528.5)" text-anchor="middle" class="k3">25</text>
<text transform="matrix(0.852 0.524 -0.763 0.351 1516.5 1522.6)" text-anchor="middle" class="k3">0</text>
<text transform="matrix(0.852 0.524 -0.763 0.351 1589.1 1488.5)" text-anchor="middle" class="k3">2</text>
<text transform="matrix(0.852 0.524 -0.763 0.351 1661.7 1454.3)" text-anchor="middle" class="k3">4</text>
<text transform="matrix(0.852 0.524 -0.763 0.351 1728.7 1423.6)" text-anchor="middle" class="k3">6</text>
<text transform="matrix(0.852 0.524 -0.763 0.351 1791.5 1391.7)" text-anchor="middle" class="k3">8</text>
<text transform="matrix(0.852 0.524 -0.763 0.351 1860.8 1367.5)" text-anchor="middle" class="k3">10</text>
<text transform="matrix(0.681 0.419 -0.818 0.376 1234.1 1474.0)" text-anchor="middle" class="t3">Data points</text>
<text transform="matrix(0.945 -0.435 0.767 0.472 1730.2 1476.3)" text-anchor="middle" class="t3">Predicted Values</text>
<text transform="matrix(0.122 0.993 -0.974 0.228 1068.7 1172.1)" text-anchor="middle" class="e3">Errors</text>
<rect x="1868.0" y="884.5" width="45.0" height="7.0" rx="2" fill="#fff" stroke="#777" stroke-width="1.5"/>
<rect x="1868.0" y="890.0" width="45.0" height="443.5" fill="url(#cb)"/>
<path d="M1868.0 890.0V1333.5M1913.0 890.0V1333.5" stroke="#222" stroke-width="1.6"/>
<rect x="1867.2" y="1331.9" width="46.6" height="3.2" fill="#000"/>
<path d="M1913.0 891.6H1923.5" stroke="#222" stroke-width="2"/>
<text x="1929.0" y="898.8" class="cl">2.3</text>
<path d="M1913.0 935.3H1923.5" stroke="#222" stroke-width="2"/>
<text x="1929.0" y="942.5" class="cl">2.1</text>
<path d="M1913.0 979.1H1923.5" stroke="#222" stroke-width="2"/>
<text x="1929.0" y="986.3" class="cl">1.9</text>
<path d="M1913.0 1022.8H1923.5" stroke="#222" stroke-width="2"/>
<text x="1929.0" y="1030.0" class="cl">1.6</text>
<path d="M1913.0 1066.5H1923.5" stroke="#222" stroke-width="2"/>
<text x="1929.0" y="1073.7" class="cl">1.4</text>
<path d="M1913.0 1110.2H1923.5" stroke="#222" stroke-width="2"/>
<text x="1929.0" y="1117.5" class="cl">1.2</text>
<path d="M1913.0 1154.0H1923.5" stroke="#222" stroke-width="2"/>
<text x="1929.0" y="1161.2" class="cl">0.94</text>
<path d="M1913.0 1197.7H1923.5" stroke="#222" stroke-width="2"/>
<text x="1929.0" y="1204.9" class="cl">0.71</text>
<path d="M1913.0 1241.4H1923.5" stroke="#222" stroke-width="2"/>
<text x="1929.0" y="1248.6" class="cl">0.48</text>
<path d="M1913.0 1285.2H1923.5" stroke="#222" stroke-width="2"/>
<text x="1929.0" y="1292.4" class="cl">0.25</text>
<path d="M1913.0 1328.9H1923.5" stroke="#222" stroke-width="2"/>
<text x="1929.0" y="1336.1" class="cl">0.02</text>
</svg>
</body></html>
